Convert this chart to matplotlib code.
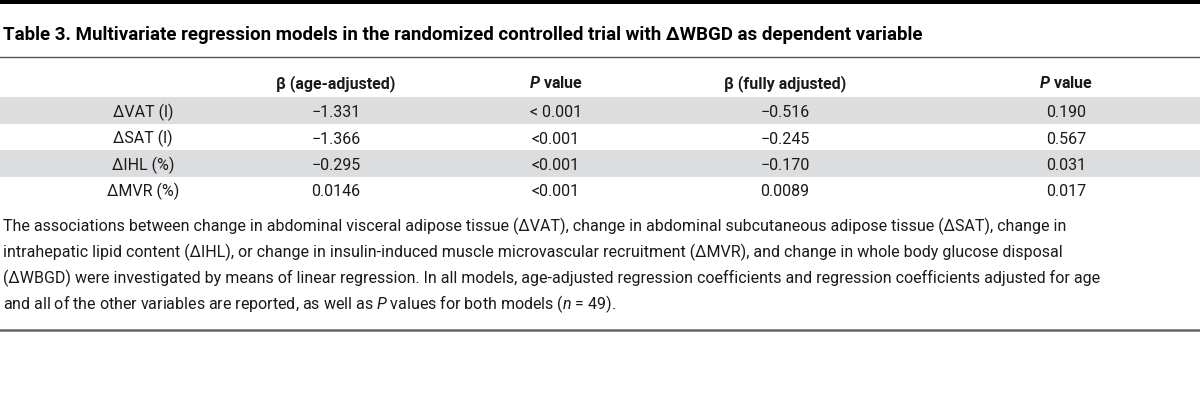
import matplotlib
matplotlib.use('Agg')
import matplotlib.pyplot as plt
from matplotlib.patches import Rectangle

#Table content.
title = 'Table 3. Multivariate regression models in the randomized controlled trial with ΔWBGD as dependent variable'
col_headers = ['', 'β (age-adjusted)', r'$\mathbfit{P}$ value', 'β (fully adjusted)', r'$\mathbfit{P}$ value']
row_labels = ['ΔVAT (l)', 'ΔSAT (l)', 'ΔIHL (%)', 'ΔMVR (%)']
beta_age = ['−1.331', '−1.366', '−0.295', '0.0146']
p_age = ['< 0.001', '<0.001', '<0.001', '<0.001']
beta_full = ['−0.516', '−0.245', '−0.170', '0.0089']
p_full = ['0.190', '0.567', '0.031', '0.017']
caption = [
    'The associations between change in abdominal visceral adipose tissue (ΔVAT), change in abdominal subcutaneous adipose tissue (ΔSAT), change in',
    'intrahepatic lipid content (ΔIHL), or change in insulin-induced muscle microvascular recruitment (ΔMVR), and change in whole body glucose disposal',
    '(ΔWBGD) were investigated by means of linear regression. In all models, age-adjusted regression coefficients and regression coefficients adjusted for age',
    r'and all of the other variables are reported, as well as $\mathit{P}$ values for both models ($\mathit{n}$ = 49).',
]

#Fonts.
plt.rcParams['font.family'] = ['Roboto', 'DejaVu Sans']
plt.rcParams['mathtext.fontset'] = 'custom'
plt.rcParams['mathtext.it'] = 'Roboto:italic'
plt.rcParams['mathtext.bfit'] = 'Roboto:italic:bold'
plt.rcParams['mathtext.rm'] = 'Roboto'

W, H = 1200, 418
fig = plt.figure(figsize=(W / 100, H / 100), dpi=100)
ax = fig.add_axes([0, 0, 1, 1])
ax.set_xlim(0, W)
ax.set_ylim(H, 0)
ax.axis('off')

ink = '#1a1a1a'

#Rules.
ax.add_patch(Rectangle((0, 0), W, 4, color='black', lw=0))
ax.plot([0, W], [57, 57], color='#555555', lw=1.0)
ax.plot([0, W], [330, 330], color='#666666', lw=1.8)

#Title.
ax.text(3, 40, title, fontsize=13.5, fontweight='bold', color='black', va='baseline', ha='left')

#Column centres and row baselines.
col_x = [143, 336, 556, 785, 1066]
header_y = 88
row_y = [117, 143.5, 170, 196.5]

#Shaded bands on alternate rows.
for i in range(len(row_labels)):
    if i % 2 == 0:
        ax.add_patch(Rectangle((0, row_y[i] - 20), W, 26.5, color='#dcdddf', lw=0))

for x, h in zip(col_x, col_headers):
    ax.text(x, header_y, h, fontsize=11.5, fontweight='bold', color=ink, ha='center', va='baseline')

columns = [row_labels, beta_age, p_age, beta_full, p_full]
for x, col in zip(col_x, columns):
    for y, val in zip(row_y, col):
        ax.text(x, y, val, fontsize=11.5, color=ink, ha='center', va='baseline')

#Caption below the table.
cap_y = [231, 257, 283, 309]
for y, line in zip(cap_y, caption):
    ax.text(3, y, line, fontsize=11.5, color=ink, ha='left', va='baseline')

plt.savefig('out.png', dpi=100)
